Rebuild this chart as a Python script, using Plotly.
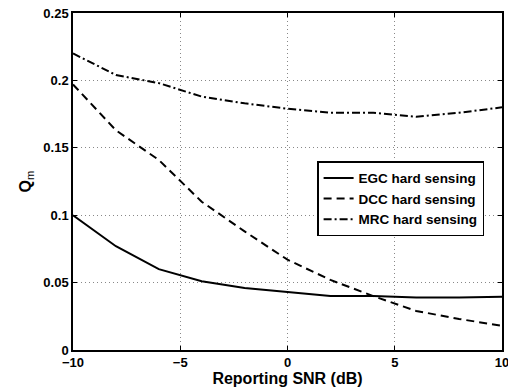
import plotly.graph_objects as go

snr = [-10, -8, -6, -4, -2, 0, 2, 4, 6, 8, 10]
egc = [0.100, 0.077, 0.060, 0.051, 0.046, 0.043, 0.040, 0.040, 0.039, 0.039, 0.0395]
dcc = [0.197, 0.163, 0.141, 0.110, 0.088, 0.067, 0.052, 0.040, 0.029, 0.023, 0.018]
mrc = [0.220, 0.204, 0.198, 0.188, 0.183, 0.179, 0.176, 0.176, 0.173, 0.176, 0.180]

xticks = [-10, -5, 0, 5, 10]
yticks = [0, 0.05, 0.1, 0.15, 0.2, 0.25]
ytext = ["0", "0.05", "0.1", "0.15", "0.2", "0.25"]
xtext = ["\u221210", "\u22125", "0", "5", "10"]

FAM = "Liberation Sans, Arial, Helvetica, sans-serif"
font = dict(family=FAM, size=13, color="black")

def b(s):
    return "<b>" + s + "</b>"

fig = go.Figure()
fig.add_trace(go.Scatter(x=snr, y=egc, mode="lines", name=b("EGC hard sensing"),
                         line=dict(color="black", width=2, dash="solid")))
fig.add_trace(go.Scatter(x=snr, y=dcc, mode="lines", name=b("DCC hard sensing"),
                         line=dict(color="black", width=2, dash="8px,5px")))
fig.add_trace(go.Scatter(x=snr, y=mrc, mode="lines", name=b("MRC hard sensing"),
                         line=dict(color="black", width=2, dash="8px,3px,2px,3px")))

axis_common = dict(showline=True, linecolor="black", linewidth=1.5, mirror="allticks",
                   ticks="inside", ticklen=4, tickcolor="black",
                   showgrid=True, gridcolor="#888888", griddash="1px,3px", gridwidth=1,
                   zeroline=False, tickfont=font, automargin=False,
                   ticklabeloverflow="allow")

fig.update_xaxes(range=[-10, 10], tickvals=xticks, ticktext=[b(t) for t in xtext],
                 title=dict(text=b("Reporting SNR (dB)"), font=dict(family=FAM, size=16, color="black"),
                            standoff=0),
                 **axis_common)
fig.update_yaxes(range=[0, 0.25], tickvals=yticks, ticktext=[b(t) for t in ytext],
                 title=dict(text=b("Q") + "<sub>m</sub>", font=dict(family=FAM, size=16, color="black"),
                            standoff=8),
                 **axis_common)

fig.update_layout(
    width=508, height=389,
    margin=dict(l=73, r=6, t=13, b=39),
    paper_bgcolor="white", plot_bgcolor="white",
    font=font,
    legend=dict(x=0.569, y=0.56, xanchor="left", yanchor="top",
                bgcolor="white", bordercolor="black", borderwidth=1.5,
                font=dict(family=FAM, size=13.5, color="black"), tracegroupgap=0, itemwidth=30),
    showlegend=True,
)

fig.write_html("out.html")
